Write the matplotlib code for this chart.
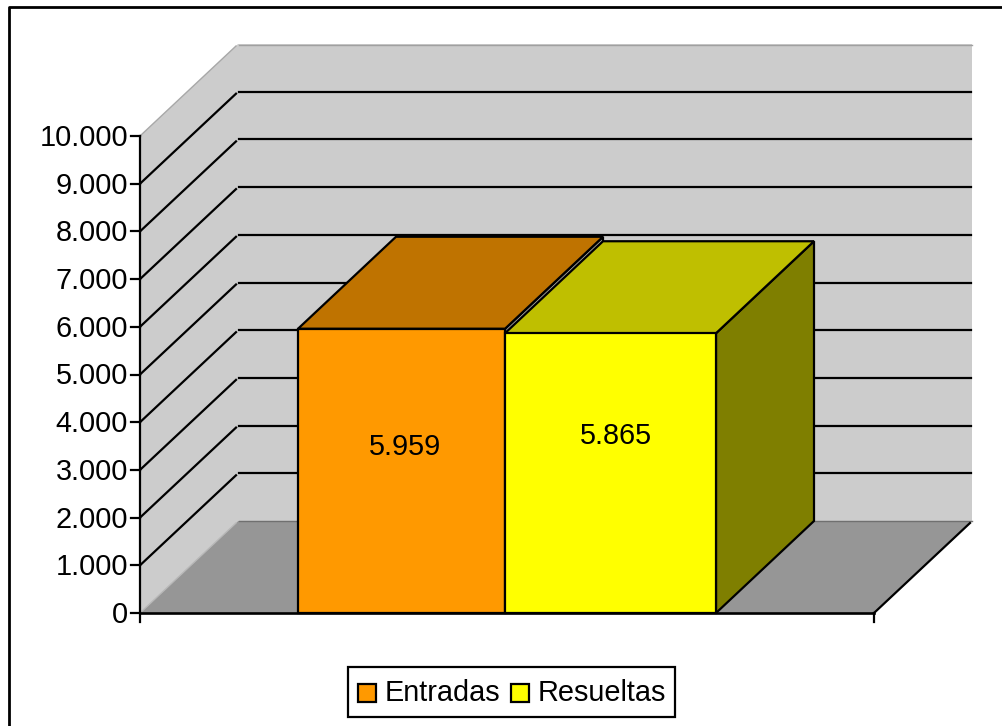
import matplotlib
matplotlib.use("Agg")
import matplotlib.pyplot as plt
from matplotlib.patches import Polygon, Rectangle

plt.rcParams["font.family"] = ["Liberation Sans", "DejaVu Sans"]

# ----- Data -------------------------------------------------------------------
SERIES = ["Entradas", "Resueltas"]
VALUES = [5959, 5865]
VALUE_LABELS = ["5.959", "5.865"]
TICKS = [0, 1000, 2000, 3000, 4000, 5000, 6000, 7000, 8000, 9000, 10000]
TICK_LABELS = ["0", "1.000", "2.000", "3.000", "4.000", "5.000",
               "6.000", "7.000", "8.000", "9.000", "10.000"]
# ------------------------------------------------------------------------------

FRONT = ["#ff9900", "#ffff00"]
TOP = ["#bf7300", "#bfbf00"]
SIDE = ["#a0a0a0", "#7f7f00"]

W, H = 1002, 726
X0, X1 = 140, 874       # front edge of the floor
Y0 = 613                # pixel row of value 0
PX_PER_UNIT = 0.0477
DX, DY = 98, -92        # depth offset
BAR_EDGES = [298, 505, 716]
LW = 1.6
FS = 20.8


def vy(v):
    return Y0 - v * PX_PER_UNIT


def poly(ax, pts, face, edge="k", lw=LW, z=2):
    ax.add_patch(Polygon(pts, closed=True, facecolor=face, edgecolor=edge,
                         linewidth=lw, zorder=z, joinstyle="miter"))


def draw_bar(ax, i, z):
    x0, x1 = BAR_EDGES[i], BAR_EDGES[i + 1]
    top = vy(VALUES[i])
    poly(ax, [(x1, top), (x1 + DX, top + DY), (x1 + DX, Y0 + DY), (x1, Y0)], SIDE[i], z=z)
    poly(ax, [(x0, top), (x1, top), (x1 + DX, top + DY), (x0 + DX, top + DY)], TOP[i], z=z)
    poly(ax, [(x0, top), (x1, top), (x1, Y0), (x0, Y0)], FRONT[i], z=z)


def main():
    fig = plt.figure(figsize=(W / 100, H / 100), dpi=100)
    ax = fig.add_axes([0, 0, 1, 1])
    ax.set_xlim(0, W)
    ax.set_ylim(H, 0)
    ax.axis("off")

    # outer frame of the chart, open on the right and at the bottom
    ax.plot([9, 9, W + 5], [H + 5, 7, 7], color="k", lw=LW + 0.4, zorder=1, clip_on=True)

    # walls and floor
    top = vy(TICKS[-1])
    poly(ax, [(X0, Y0), (X0 + DX, Y0 + DY), (X0 + DX, top + DY), (X0, top)], "#cccccc", edge="none", lw=0)
    poly(ax, [(X0 + DX, Y0 + DY), (X1 + DX, Y0 + DY), (X1 + DX, top + DY), (X0 + DX, top + DY)],
         "#cccccc", edge="none", lw=0)
    poly(ax, [(X0, Y0), (X1, Y0), (X1 + DX, Y0 + DY), (X0 + DX, Y0 + DY)], "#969696", edge="none", lw=0)
    ax.plot([X0, X0 + DX - 2], [top, top + DY + 2], color="#a8a8a8", lw=1, zorder=2)
    ax.plot([X0 + DX + 1, X1 + DX], [top + DY + 1, top + DY + 1], color="#a0a0a0", lw=1, zorder=2)
    ax.plot([X0, X0 + DX - 2], [Y0, Y0 + DY + 2], color="#b8b8b8", lw=1, zorder=2)
    ax.plot([X0 + DX + 1, X1 + DX], [Y0 + DY, Y0 + DY], color="#707070", lw=1, zorder=2)
    ax.plot([X1, X1 + DX - 2], [Y0, Y0 + DY + 2], color="k", lw=LW, zorder=2)

    # gridlines on both walls, with the small break at the corner
    for v in TICKS[1:-1]:
        y = vy(v)
        ax.plot([X0, X0 + DX - 2], [y, y + DY + 2], color="k", lw=LW, zorder=2)
        ax.plot([X0 + DX + 1, X1 + DX - 1], [y + DY, y + DY], color="k", lw=LW, zorder=2)

    draw_bar(ax, 0, 3)
    draw_bar(ax, 1, 4)

    # axes
    ax.plot([X0, X0], [vy(TICKS[-1]), Y0 + 9], color="k", lw=LW, zorder=5)
    ax.plot([X0, X1], [Y0, Y0], color="k", lw=LW + 0.3, zorder=5)
    ax.plot([X1, X1], [Y0, Y0 + 9], color="k", lw=LW, zorder=5)
    for v, lab in zip(TICKS, TICK_LABELS):
        ax.plot([X0 - 9, X0], [vy(v), vy(v)], color="k", lw=LW, zorder=5)
        ax.text(X0 - 12, vy(v) + 2, lab, ha="right", va="center", fontsize=FS, zorder=6)

    # value labels
    ax.text(405.5, 447, VALUE_LABELS[0], ha="center", va="center", fontsize=FS, zorder=6)
    ax.text(615.5, 436, VALUE_LABELS[1], ha="center", va="center", fontsize=FS, zorder=6)

    # legend
    ax.add_patch(Rectangle((348, 667), 327, 50, facecolor="w", edgecolor="k", lw=LW, zorder=6))
    for i, x in enumerate([358, 511]):
        ax.add_patch(Rectangle((x, 684), 18, 18, facecolor=FRONT[i], edgecolor="k", lw=LW, zorder=7))
        ax.text(x + 27, 693, SERIES[i], ha="left", va="center", fontsize=FS, zorder=7)

    fig.savefig("out.png", dpi=100)


if __name__ == "__main__":
    main()
